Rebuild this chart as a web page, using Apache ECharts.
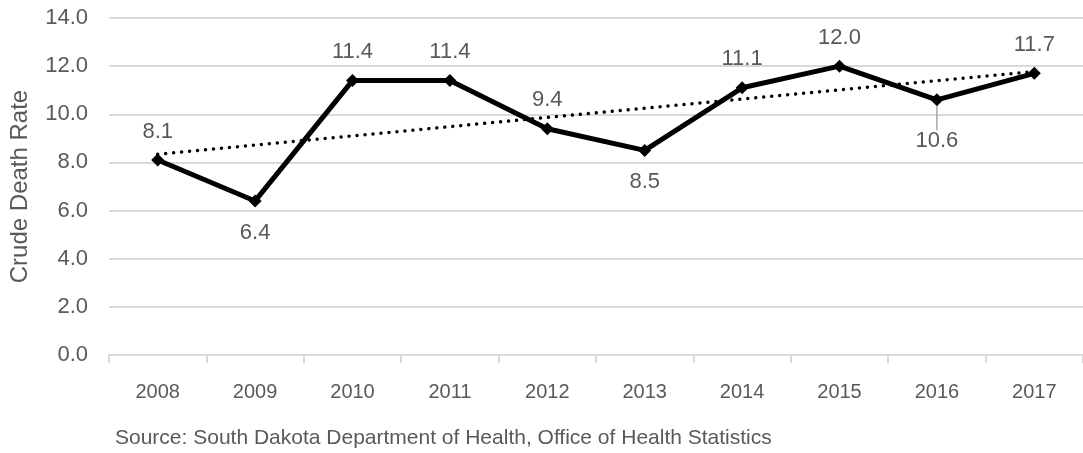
<!DOCTYPE html>
<html><head><meta charset="utf-8">
<script src="https://cdn.jsdelivr.net/npm/echarts@6/dist/echarts.min.js"></script>
<style>html,body{margin:0;padding:0;background:#fff}#c{width:1083px;height:453px}</style>
</head><body><div id="c"></div>
<script>
const years = ['2008','2009','2010','2011','2012','2013','2014','2015','2016','2017'];
const rates = [8.1, 6.4, 11.4, 11.4, 9.4, 8.5, 11.1, 12.0, 10.6, 11.7];
const labelSide = ['top','bottom','top','top','top','bottom','top','top','bottom','top'];
const trend = [8.34, null, null, null, null, null, null, null, null, 11.78];
const yTicks = [0, 2, 4, 6, 8, 10, 12, 14];
const sourceText = 'Source: South Dakota Department of Health, Office of Health Statistics';

const FONT = '"Liberation Sans", Arial, sans-serif';
const chart = echarts.init(document.getElementById('c'), null, {renderer:'canvas'});
chart.setOption({
  animation: false,
  textStyle: {fontFamily: FONT},
  grid: {left: 109, top: 18, width: 984, height: 337, containLabel: false},
  xAxis: {
    type: 'category', data: years, boundaryGap: true,
    axisLine: {lineStyle: {color: '#d9d9d9', width: 2}},
    axisTick: {show: true, length: 8, lineStyle: {color: '#d9d9d9', width: 2}},
    axisLabel: {color: '#595959', fontSize: 20, fontFamily: FONT, margin: 27}
  },
  yAxis: {
    type: 'value', min: yTicks[0], max: yTicks[yTicks.length-1], interval: 2,
    name: 'Crude Death Rate', nameLocation: 'middle', nameGap: 77, nameRotate: 90,
    nameTextStyle: {color: '#595959', fontSize: 24, fontFamily: FONT},
    axisLine: {show: false}, axisTick: {show: false},
    splitLine: {lineStyle: {color: '#d9d9d9', width: 2}},
    axisLabel: {color: '#595959', fontSize: 22, fontFamily: FONT, margin: 21,
      formatter: v => v.toFixed(1)}
  },
  graphic: [{type: 'text', left: 115, top: 428,
    style: {text: sourceText, fill: '#595959', font: '21px ' + FONT}}],
  series: [
    {
      type: 'line', data: trend, connectNulls: true, symbol: 'none', z: 3,
      lineStyle: {color: '#000', width: 3.5, type: [0.01, 8], cap: 'round'}
    },
    {
      type: 'line', z: 4,
      data: rates.map((v, i) => ({
        value: v,
        label: {position: labelSide[i], distance: labelSide[i] === 'top' ? 11 : 14},
        labelLine: {show: i === 8}
      })),
      symbol: 'diamond', symbolSize: 13,
      itemStyle: {color: '#000'},
      lineStyle: {color: '#000', width: 5},
      label: {show: true, color: '#595959', fontSize: 22, fontFamily: FONT,
        formatter: p => p.value.toFixed(1)},
      labelLine: {show: false, lineStyle: {color: '#a6a6a6', width: 1.5}},
      labelLayout: p => p.dataIndex === 8 ? {dy: 10} : {}
    }
  ]
});
</script></body></html>
